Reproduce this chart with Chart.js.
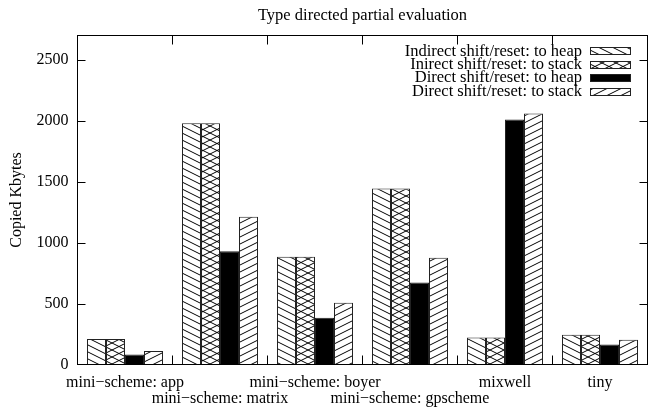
<!DOCTYPE html>
<html><head><meta charset="utf-8">
<script src="https://cdn.jsdelivr.net/npm/chart.js@4.4.0/dist/chart.umd.min.js"></script>
<style>html,body{margin:0;padding:0;background:#fff;}#wrap{width:652px;height:407px;}</style>
</head><body><div id="wrap"><canvas id="c" width="652" height="407"></canvas></div>
<script>
const categories = ['mini\u2212scheme: app','mini\u2212scheme: matrix','mini\u2212scheme: boyer','mini\u2212scheme: gpscheme','mixwell','tiny'];
const seriesNames = ['Indirect shift/reset: to heap','Inirect shift/reset: to stack','Direct shift/reset: to heap','Direct shift/reset: to stack'];
const indirectHeap  = [210, 1980, 885, 1445, 222, 244];
const indirectStack = [210, 1980, 885, 1445, 222, 244];
const directHeap    = [82, 930, 384, 672, 2010, 164];
const directStack   = [110, 1212, 506, 877, 2060, 203];
const yTicks = [0, 500, 1000, 1500, 2000, 2500];
const yMax = 2700;

const FONT = '"Liberation Serif", "Times New Roman", serif';
const stagger = [false, true, false, true, false, false];

function makePattern(kind){
  const w = 14, h = 7;
  const t = document.createElement('canvas'); t.width = w; t.height = h;
  const g = t.getContext('2d');
  g.fillStyle = '#fff'; g.fillRect(0, 0, w, h);
  g.strokeStyle = '#000'; g.lineWidth = 1;
  const back = () => { for (const dy of [-h, 0, h]) { g.beginPath(); g.moveTo(0, dy); g.lineTo(w, dy + h); g.stroke(); } };
  const fwd  = () => { for (const dy of [-h, 0, h]) { g.beginPath(); g.moveTo(0, dy + h); g.lineTo(w, dy); g.stroke(); } };
  if (kind === 'back' || kind === 'cross') back();
  if (kind === 'fwd' || kind === 'cross') fwd();
  return g.createPattern(t, 'repeat');
}

const ctx = document.getElementById('c').getContext('2d');
const fills = [makePattern('back'), makePattern('cross'), '#000', makePattern('fwd')];
const values = [indirectHeap, indirectStack, directHeap, directStack];

const decor = {
  id: 'decor',
  afterDraw(chart){
    const {ctx, chartArea: a, scales: {y}} = chart;
    ctx.save();
    ctx.strokeStyle = '#000'; ctx.lineWidth = 1;
    ctx.strokeRect(a.left, a.top, a.right - a.left, a.bottom - a.top);
    ctx.beginPath();
    yTicks.forEach(v => {
      if (v === 0) return;
      const py = Math.round(y.getPixelForValue(v)) + 0.5;
      ctx.moveTo(a.left, py); ctx.lineTo(a.left + 8, py);
      ctx.moveTo(a.right, py); ctx.lineTo(a.right - 8, py);
    });
    const n = categories.length, cw = (a.right - a.left) / n;
    for (let k = 1; k < n; k++) {
      const px = a.left + cw * k;
      ctx.moveTo(px, a.bottom); ctx.lineTo(px, a.bottom - 9);
      ctx.moveTo(px, a.top); ctx.lineTo(px, a.top + 9);
    }
    ctx.stroke();
    // key
    ctx.font = '16.5px ' + FONT;
    ctx.textAlign = 'right'; ctx.textBaseline = 'middle';
    chart.data.datasets.forEach((ds, i) => {
      const cy = a.top + 15.8 + 13.4 * i;
      ctx.fillStyle = '#000';
      ctx.fillText(ds.label, a.right - 65.5, cy);
      const bx = a.right - 57.5, bw = 41, bh = 8;
      ctx.fillStyle = ds.backgroundColor;
      ctx.fillRect(bx, Math.round(cy - 4), bw, bh);
      ctx.strokeStyle = '#222';
      ctx.strokeRect(bx + 0.5, Math.round(cy - 4) + 0.5, bw - 1, bh - 1);
    });
    ctx.restore();
  }
};

new Chart(ctx, {
  type: 'bar',
  data: {
    labels: categories,
    datasets: seriesNames.map((name, i) => ({
      label: name,
      data: values[i],
      backgroundColor: fills[i],
      borderColor: '#222',
      borderWidth: 1,
      categoryPercentage: 0.8,
      barPercentage: 1.0
    }))
  },
  options: {
    responsive: false,
    animation: false,
    devicePixelRatio: 1,
    layout: { padding: { left: 0, right: 4.5, top: 0, bottom: 0 } },
    scales: {
      x: {
        type: 'category',
        offset: true,
        grid: { display: false, drawTicks: false },
        border: { display: false },
        ticks: {
          autoSkip: false, maxRotation: 0, minRotation: 0, padding: 10,
          color: '#000',
          font: { family: FONT, size: 16, lineHeight: 1.0 },
          callback: function(v, i){ const l = this.getLabelForValue(v); return stagger[i] ? ['', l] : l; }
        },
        afterFit: s => { s.height = 42.5; }
      },
      y: {
        min: 0, max: yMax,
        afterBuildTicks: s => { s.ticks = yTicks.map(v => ({ value: v })); },
        grid: { display: false, drawTicks: false },
        border: { display: false },
        ticks: { padding: 9, color: '#000', font: { family: FONT, size: 16 }, callback: v => String(v) },
        title: { display: true, text: 'Copied Kbytes', color: '#000', font: { family: FONT, size: 16 }, padding: { top: 7.4, bottom: 0 } },
        afterFit: s => { s.width = 77.5; }
      }
    },
    plugins: {
      legend: { display: false },
      tooltip: { enabled: false },
      title: {
        display: true, text: 'Type directed partial evaluation', fullSize: false,
        color: '#000', font: { family: FONT, size: 16.5, weight: 'normal' },
        padding: { top: 6, bottom: 9.7 }
      }
    }
  },
  plugins: [decor]
});
</script></body></html>
